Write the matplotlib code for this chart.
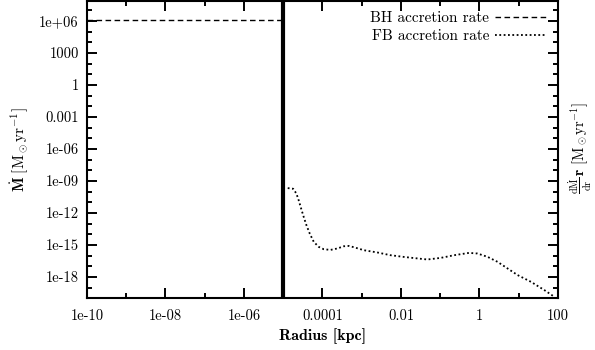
import numpy as np
import matplotlib
matplotlib.use("Agg")
import matplotlib.pyplot as plt
from matplotlib.ticker import FixedLocator, NullFormatter

plt.rcParams['font.family'] = ['cmr10', 'DejaVu Serif']
plt.rcParams['mathtext.fontset'] = 'cm'
plt.rcParams['axes.unicode_minus'] = False
plt.rcParams['axes.formatter.use_mathtext'] = True

# Data
bh_radius = [1e-10, 1e-5]
bh_rate = [1.2e6, 1.2e6]

fb_log_radius = [-4.886, -4.748, -4.664, -4.606, -4.544, -4.478, -4.409, -4.325,
                 -4.222, -4.095, -3.967, -3.796, -3.625, -3.457, -3.329, -3.201,
                 -2.946, -2.604, -2.265, -1.925, -1.583, -1.328, -0.988, -0.648,
                 -0.265, -0.051, 0.204, 0.460, 0.715, 0.970, 1.310, 1.649, 1.905]
fb_log_rate = [-9.66, -9.72, -10.18, -10.81, -11.58, -12.37, -13.14, -13.92,
               -14.70, -15.17, -15.39, -15.45, -15.32, -15.11, -15.08, -15.20,
               -15.48, -15.69, -15.95, -16.11, -16.25, -16.35, -16.20, -15.95,
               -15.73, -15.79, -16.10, -16.57, -17.19, -17.81, -18.44, -19.21, -19.84]

vline_radius = 1e-5

x_major = [1e-10, 1e-8, 1e-6, 1e-4, 1e-2, 1, 100]
x_labels = ['1e-10', '1e-08', '1e-06', '0.0001', '0.01', '1', '100']
y_major = [1e6, 1e3, 1, 1e-3, 1e-6, 1e-9, 1e-12, 1e-15, 1e-18]
y_labels = ['1e+06', '1000', '1', '0.001', '1e-06', '1e-09', '1e-12', '1e-15', '1e-18']

fig = plt.figure(figsize=(5.95, 3.5), dpi=100)
ax = fig.add_axes([87/595, 1 - 298/350, (558-87)/595, (298-1)/350])

fb_x = 10.0 ** np.array(fb_log_radius)
fb_y = 10.0 ** np.array(fb_log_rate)

ax.plot(bh_radius, bh_rate, color='black', lw=1.0, dashes=(4, 2.5), label='BH accretion rate')
ax.plot(fb_x, fb_y, color='black', lw=1.3, dashes=(1, 1.4), label='FB accretion rate')
ax.axvline(vline_radius, color='black', lw=3.0)

ax.set_xscale('log')
ax.set_yscale('log')
ax.set_xlim(1e-10, 100)
ax.set_ylim(1.1e-20, 7.5e7)

ax.xaxis.set_major_locator(FixedLocator(x_major))
ax.set_xticklabels(x_labels)
ax.xaxis.set_minor_locator(FixedLocator([10.0**k for k in range(-9, 2, 2)]))
ax.xaxis.set_minor_formatter(NullFormatter())
ax.yaxis.set_major_locator(FixedLocator(y_major))
ax.set_yticklabels(y_labels)
ax.yaxis.set_minor_locator(FixedLocator([10.0**k for k in range(-20, 8) if k % 3 != 0]))
ax.yaxis.set_minor_formatter(NullFormatter())

ax.tick_params(which='both', direction='in', top=True, right=True, width=1.4, labelsize=10.5)
ax.tick_params(which='major', length=7)
ax.tick_params(which='minor', length=3.5)
ax.tick_params(axis='y', pad=6)
ax.tick_params(axis='x', pad=8)
for s in ax.spines.values():
    s.set_linewidth(1.5)

ax.set_xlabel('Radius [kpc]', fontsize=11.5, labelpad=4, family=['cmb10', 'DejaVu Serif'])
ax.set_ylabel(r'$\dot{\mathbf{M}}\ [\mathrm{M}_\odot\mathrm{yr}^{-1}]$', fontsize=11, labelpad=6)

fig.text(580/595, 1 - 148/350,
         r'$\frac{\mathrm{d}\dot{\mathrm{M}}}{\mathrm{dr}}\,\mathbf{r}\ [\mathrm{M}_\odot\mathrm{yr}^{-1}]$',
         rotation=90, ha='center', va='center', fontsize=10.5)

leg = ax.legend(loc='upper right', frameon=False, markerfirst=False, fontsize=11,
                handlelength=3.4, handletextpad=0.4, labelspacing=0.25,
                borderaxespad=0.3, bbox_to_anchor=(1.0, 1.0))

fig.savefig('out.png', dpi=100, facecolor='white')
